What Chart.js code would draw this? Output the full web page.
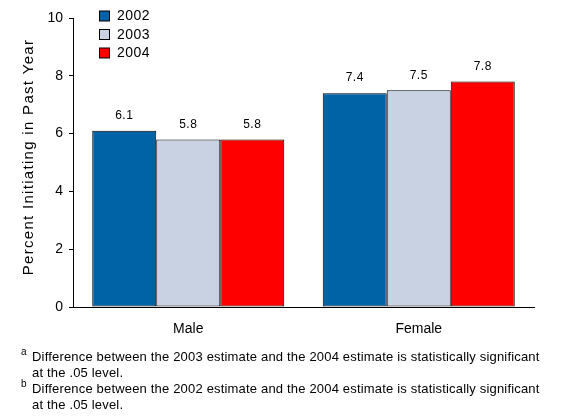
<!DOCTYPE html>
<html>
<head>
<meta charset="utf-8">
<script src="https://cdn.jsdelivr.net/npm/chart.js@4/dist/chart.umd.min.js"></script>
<style>
html,body{margin:0;padding:0;background:#fff;}
#wrap{width:576px;height:418px;position:relative;}
</style>
</head>
<body>
<div id="wrap"><canvas id="c" width="576" height="418"></canvas></div>
<script>
const categories = ['Male', 'Female'];
const years = ['2002', '2003', '2004'];
const values2002 = [6.1, 7.4];
const values2003 = [5.8, 7.5];
const values2004 = [5.8, 7.8];
const valueLabels2002 = ['6.1', '7.4'];
const valueLabels2003 = ['5.8', '7.5'];
const valueLabels2004 = ['5.8', '7.8'];
const yAxisTitle = 'Percent Initiating in Past Year';
const footnotes = [
  ['a', 'Difference between the 2003 estimate and the 2004 estimate is statistically significant', 'at the .05 level.'],
  ['b', 'Difference between the 2002 estimate and the 2004 estimate is statistically significant', 'at the .05 level.']
];
const colors = ['#0063A6', '#C9D2E3', '#FF0000'];
const FONT = '"Liberation Sans", Arial, sans-serif';

const labelsByDataset = [valueLabels2002, valueLabels2003, valueLabels2004];

const overlay = {
  id: 'overlay',
  afterDatasetsDraw(chart) {
    const ctx = chart.ctx;
    ctx.save();
    ctx.fillStyle = '#000';
    // value labels
    ctx.font = '12px ' + FONT;
    ctx.letterSpacing = '0.5px';
    ctx.textAlign = 'center';
    ctx.textBaseline = 'middle';
    chart.data.datasets.forEach((ds, i) => {
      const meta = chart.getDatasetMeta(i);
      meta.data.forEach((bar, j) => {
        ctx.fillText(labelsByDataset[i][j], bar.x, bar.y - 15);
      });
    });
    // legend
    ctx.font = '14px ' + FONT;
    ctx.letterSpacing = '0.5px';
    ctx.textAlign = 'left';
    const rowY = [16.5, 35, 53.5];
    chart.data.datasets.forEach((ds, i) => {
      const y = rowY[i];
      ctx.fillStyle = ds.backgroundColor;
      ctx.fillRect(99.5, y - 5.5, 10, 10);
      ctx.strokeStyle = '#000';
      ctx.lineWidth = 1;
      ctx.strokeRect(99.5, y - 5.5, 10, 10);
      ctx.fillStyle = '#000';
      ctx.fillText(ds.label, 117, y);
    });
    // y axis title
    ctx.save();
    ctx.translate(29, 157);
    ctx.rotate(-Math.PI / 2);
    ctx.font = '15px ' + FONT;
    ctx.letterSpacing = '1.3px';
    ctx.textAlign = 'center';
    ctx.fillText(yAxisTitle, 0, 0);
    ctx.restore();
    // footnotes
    const lineY = [357.5, 373, 389.5, 405.5];
    footnotes.forEach((fn, k) => {
      ctx.letterSpacing = '0px';
      ctx.font = '10px ' + FONT;
      ctx.textAlign = 'left';
      ctx.fillText(fn[0], 21, lineY[k * 2] - 5);
      ctx.font = '13px ' + FONT;
      ctx.letterSpacing = '0.18px';
      ctx.fillText(fn[1], 32, lineY[k * 2]);
      ctx.fillText(fn[2], 32, lineY[k * 2 + 1]);
    });
    ctx.restore();
  }
};

new Chart(document.getElementById('c'), {
  type: 'bar',
  data: {
    labels: categories,
    datasets: [
      { label: years[0], data: values2002, backgroundColor: colors[0] },
      { label: years[1], data: values2003, backgroundColor: colors[1] },
      { label: years[2], data: values2004, backgroundColor: colors[2] }
    ].map(d => Object.assign(d, { borderColor: '#000', borderWidth: 1, borderSkipped: false }))
  },
  options: {
    responsive: false,
    animation: false,
    devicePixelRatio: 1,
    layout: { padding: { left: 0, right: 42, top: 18, bottom: 0 } },
    datasets: { bar: { barPercentage: 1, categoryPercentage: 0.833 } },
    plugins: { legend: { display: false }, tooltip: { enabled: false }, title: { display: false } },
    scales: {
      x: {
        grid: { display: false },
        border: { display: true, color: '#000', width: 1 },
        ticks: { color: '#000', font: { family: FONT, size: 14 }, padding: 6 },
        afterFit(s) { s.height = 111; }
      },
      y: {
        min: 0, max: 10,
        grid: { drawOnChartArea: false, drawTicks: true, tickLength: 4, color: '#000' },
        border: { display: true, color: '#000', width: 1 },
        ticks: { stepSize: 2, color: '#000', font: { family: FONT, size: 14 }, padding: 6 },
        afterFit(s) { s.width = 73; }
      }
    }
  },
  plugins: [overlay]
});
</script>
</body>
</html>
